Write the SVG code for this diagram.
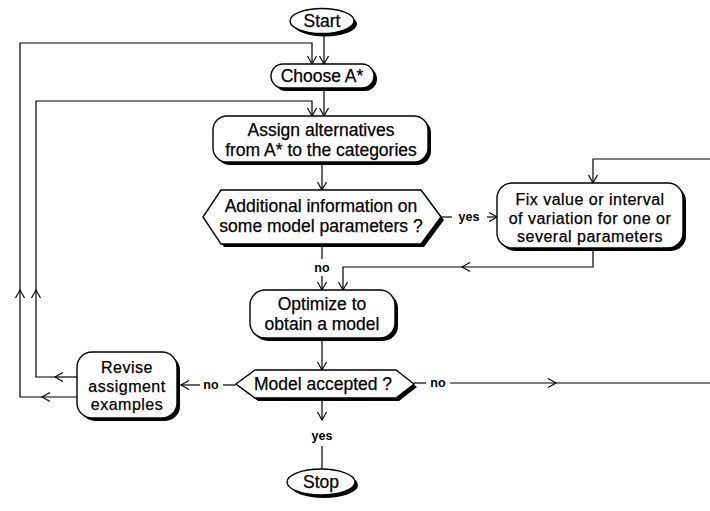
<svg xmlns="http://www.w3.org/2000/svg" width="710" height="511" viewBox="0 0 710 511">
<style>
.bg{fill:#fff}
.sh{fill:#000}
.nd{fill:#fff;stroke:#000;stroke-width:1.4}
.t{font-family:"Liberation Sans",Arial,sans-serif;font-size:17.5px;fill:#000;stroke:#000;stroke-width:0.25;text-anchor:middle}
.s{font-size:16px;letter-spacing:0.5px}
.lb{font-family:"Liberation Sans",Arial,sans-serif;font-size:12.5px;font-weight:bold;fill:#000;text-anchor:middle}
.c{fill:none;stroke:#000;stroke-width:1.2}
</style>
<defs>
<marker id="ar" markerUnits="userSpaceOnUse" viewBox="-10 -6 12 12" refX="0" refY="0" markerWidth="12" markerHeight="12" orient="auto">
<path d="M-8,-4.5 L0,0 L-8,4.5" fill="none" stroke="#000" stroke-width="1.2"/>
</marker>
</defs>
<rect class="bg" x="0" y="0" width="710" height="511"/>

<g id="connectors">
<!-- Start -> Choose -->
<path class="c" d="M324,34 V64" marker-end="url(#ar)"/>
<!-- outer loop -->
<path class="c" d="M77,397 H42" marker-end="url(#ar)"/>
<path class="c" d="M42,397 H20 V290" marker-end="url(#ar)"/>
<path class="c" d="M20,290 V43 H312 V64" marker-end="url(#ar)"/>
<!-- inner loop -->
<path class="c" d="M77,377 H55" marker-end="url(#ar)"/>
<path class="c" d="M55,377 H36 V290" marker-end="url(#ar)"/>
<path class="c" d="M36,290 V101 H312 V116" marker-end="url(#ar)"/>
<!-- Choose -> Assign -->
<path class="c" d="M324,89 V116" marker-end="url(#ar)"/>
<!-- Assign -> Additional -->
<path class="c" d="M322,165 V190" marker-end="url(#ar)"/>
<!-- Additional yes -> Fix -->
<path class="c" d="M441,217 H452"/>
<path class="c" d="M487,217 H497" marker-end="url(#ar)"/>
<!-- Additional no -> Optimize -->
<path class="c" d="M322,246 V259"/>
<path class="c" d="M322,276 V290" marker-end="url(#ar)"/>
<!-- Fix -> Optimize -->
<path class="c" d="M593,251 V267 H462" marker-end="url(#ar)"/>
<path class="c" d="M462,267 H343 V290" marker-end="url(#ar)"/>
<!-- right entry -> Fix -->
<path class="c" d="M710,159 H593 V183" marker-end="url(#ar)"/>
<!-- Optimize -> Model -->
<path class="c" d="M322,341 V370" marker-end="url(#ar)"/>
<!-- Model no right -->
<path class="c" d="M414,383 H426"/>
<path class="c" d="M450,383 H556" marker-end="url(#ar)"/>
<path class="c" d="M556,383 H710"/>
<!-- Model no left -> Revise -->
<path class="c" d="M236,385 H223"/>
<path class="c" d="M200,385 H181" marker-end="url(#ar)"/>
<!-- Model yes -> Stop -->
<path class="c" d="M322,400 V420" marker-end="url(#ar)"/>
<path class="c" d="M322,446 V470"/>
<text class="lb" x="469" y="221">yes</text>
<text class="lb" x="322" y="272">no</text>
<text class="lb" x="438" y="387">no</text>
<text class="lb" x="211" y="389">no</text>
<text class="lb" x="322" y="440">yes</text>
</g>

<g id="start">
<ellipse class="sh" cx="325" cy="24" rx="32" ry="12.5"/>
<ellipse class="nd" cx="322" cy="21" rx="32" ry="12.5"/>
<text class="t" x="322" y="27">Start</text>
</g>

<g id="choose">
<rect class="sh" x="274" y="67" width="103" height="24" rx="12"/>
<rect class="nd" x="271" y="64" width="103" height="24" rx="12"/>
<text class="t" x="322" y="82">Choose A*</text>
</g>

<g id="assign">
<rect class="sh" x="216" y="119" width="215" height="46" rx="14"/>
<rect class="nd" x="213" y="116" width="215" height="46" rx="14"/>
<text class="t" x="321" y="136">Assign alternatives</text>
<text class="t" x="321" y="156">from A* to the categories</text>
</g>

<g id="additional">
<polygon class="sh" points="206,220 224,193 424,193 444,220 424,247 224,247"/>
<polygon class="nd" points="203,217 221,190 421,190 441,217 421,244 221,244"/>
<text class="t" x="321" y="212">Additional information on</text>
<text class="t" x="321" y="232">some model parameters ?</text>
</g>

<g id="fix">
<rect class="sh" x="500" y="186" width="186" height="65" rx="15"/>
<rect class="nd" x="497" y="183" width="186" height="65" rx="15"/>
<text class="t s" x="590" y="205">Fix value or interval</text>
<text class="t s" x="590" y="223.5">of variation for one or</text>
<text class="t s" x="590" y="242">several parameters</text>
</g>

<g id="optimize">
<rect class="sh" x="253" y="293" width="145" height="48" rx="15"/>
<rect class="nd" x="250" y="290" width="145" height="48" rx="15"/>
<text class="t" x="322" y="310">Optimize to</text>
<text class="t" x="322" y="330">obtain a model</text>
</g>

<g id="model">
<polygon class="sh" points="239,387 258,373 399,373 417,387 399,401 258,401"/>
<polygon class="nd" points="236,384 255,370 396,370 414,384 396,398 255,398"/>
<text class="t" x="323" y="390">Model accepted ?</text>
</g>

<g id="revise">
<rect class="sh" x="80" y="355" width="100" height="66" rx="15"/>
<rect class="nd" x="77" y="352" width="100" height="66" rx="15"/>
<text class="t s" x="127" y="373">Revise</text>
<text class="t s" x="127" y="391.5">assigment</text>
<text class="t s" x="127" y="410">examples</text>
</g>

<g id="stop">
<ellipse class="sh" cx="324" cy="485" rx="34" ry="13"/>
<ellipse class="nd" cx="321" cy="482" rx="34" ry="13"/>
<text class="t" x="321" y="488">Stop</text>
</g>
</svg>
